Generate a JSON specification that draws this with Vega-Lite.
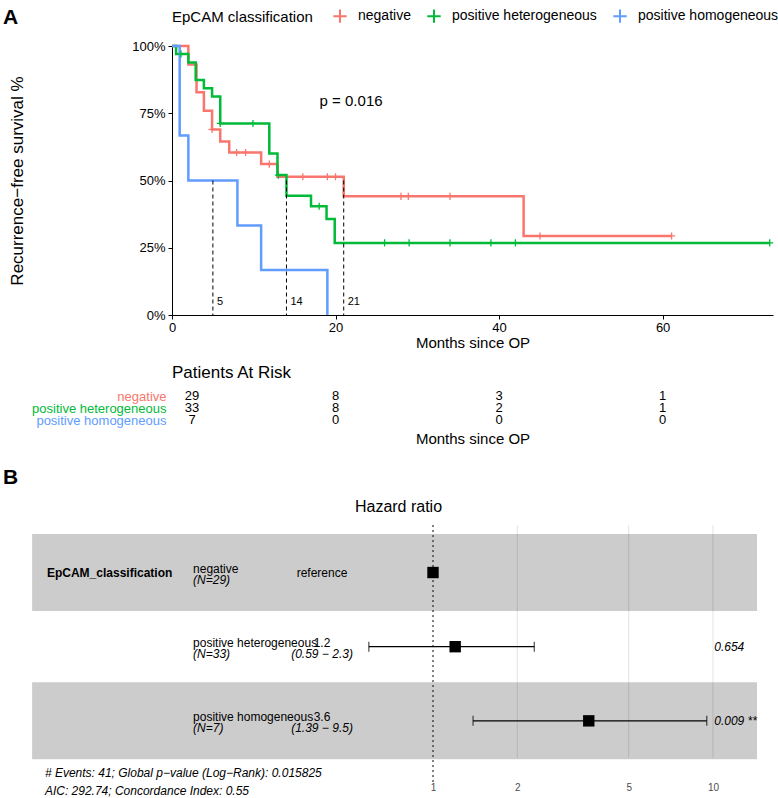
{
  "$schema": "https://vega.github.io/schema/vega-lite/v6.json",
  "background": "white",
  "padding": {"left": 3, "top": 7, "right": 0, "bottom": 0},
  "config": {
    "font": "Liberation Sans",
    "view": {"stroke": null},
    "axis": {"labelColor": "black", "titleColor": "black", "domainColor": "black", "tickColor": "black", "titleFontWeight": "normal", "grid": false, "labelFont": "Liberation Sans", "titleFont": "Liberation Sans"},
    "title": {"color": "black", "fontWeight": "normal", "font": "Liberation Sans"},
    "legend": {"labelFont": "Liberation Sans", "titleFont": "Liberation Sans", "labelColor": "black", "titleColor": "black"},
    "text": {"color": "black"}
  },
  "datasets": {
    "km": [
      {"group": "negative", "time": 0, "surv": 1},
      {"group": "negative", "time": 2.0, "surv": 0.931},
      {"group": "negative", "time": 3.0, "surv": 0.828},
      {"group": "negative", "time": 3.9, "surv": 0.759},
      {"group": "negative", "time": 4.9, "surv": 0.69},
      {"group": "negative", "time": 5.9, "surv": 0.645},
      {"group": "negative", "time": 7.0, "surv": 0.604},
      {"group": "negative", "time": 10.9, "surv": 0.561},
      {"group": "negative", "time": 12.9, "surv": 0.514},
      {"group": "negative", "time": 21, "surv": 0.441},
      {"group": "negative", "time": 43, "surv": 0.294},
      {"group": "negative", "time": 61.1, "surv": 0.294},
      {"group": "positive heterogeneous", "time": 0, "surv": 1},
      {"group": "positive heterogeneous", "time": 0.5, "surv": 0.97},
      {"group": "positive heterogeneous", "time": 2.0, "surv": 0.939},
      {"group": "positive heterogeneous", "time": 2.9, "surv": 0.874},
      {"group": "positive heterogeneous", "time": 3.9, "surv": 0.843},
      {"group": "positive heterogeneous", "time": 4.9, "surv": 0.812},
      {"group": "positive heterogeneous", "time": 5.9, "surv": 0.712},
      {"group": "positive heterogeneous", "time": 11.9, "surv": 0.6},
      {"group": "positive heterogeneous", "time": 12.9, "surv": 0.52},
      {"group": "positive heterogeneous", "time": 14, "surv": 0.443},
      {"group": "positive heterogeneous", "time": 17, "surv": 0.404},
      {"group": "positive heterogeneous", "time": 18.9, "surv": 0.357},
      {"group": "positive heterogeneous", "time": 19.9, "surv": 0.268},
      {"group": "positive heterogeneous", "time": 73.1, "surv": 0.268},
      {"group": "positive homogeneous", "time": 0, "surv": 1},
      {"group": "positive homogeneous", "time": 0.94, "surv": 0.667},
      {"group": "positive homogeneous", "time": 2.0, "surv": 0.5},
      {"group": "positive homogeneous", "time": 8.0, "surv": 0.333},
      {"group": "positive homogeneous", "time": 10.9, "surv": 0.167},
      {"group": "positive homogeneous", "time": 19, "surv": 0}
    ],
    "censor": [
      {"group": "negative", "time": 4.9, "surv": 0.69},
      {"group": "negative", "time": 7.9, "surv": 0.604},
      {"group": "negative", "time": 9.0, "surv": 0.604},
      {"group": "negative", "time": 11.9, "surv": 0.561},
      {"group": "negative", "time": 16.0, "surv": 0.514},
      {"group": "negative", "time": 19.0, "surv": 0.514},
      {"group": "negative", "time": 20.0, "surv": 0.514},
      {"group": "negative", "time": 28.0, "surv": 0.441},
      {"group": "negative", "time": 28.9, "surv": 0.441},
      {"group": "negative", "time": 34.0, "surv": 0.441},
      {"group": "negative", "time": 45.0, "surv": 0.294},
      {"group": "negative", "time": 61.1, "surv": 0.294},
      {"group": "positive heterogeneous", "time": 1.1, "surv": 0.97},
      {"group": "positive heterogeneous", "time": 5.9, "surv": 0.712},
      {"group": "positive heterogeneous", "time": 9.9, "surv": 0.712},
      {"group": "positive heterogeneous", "time": 13.0, "surv": 0.52},
      {"group": "positive heterogeneous", "time": 18.0, "surv": 0.404},
      {"group": "positive heterogeneous", "time": 26.0, "surv": 0.268},
      {"group": "positive heterogeneous", "time": 29.0, "surv": 0.268},
      {"group": "positive heterogeneous", "time": 34.0, "surv": 0.268},
      {"group": "positive heterogeneous", "time": 39.0, "surv": 0.268},
      {"group": "positive heterogeneous", "time": 42.0, "surv": 0.268},
      {"group": "positive heterogeneous", "time": 73.1, "surv": 0.268}
    ],
    "medians": [{"time": 5, "label": "5"}, {"time": 14, "label": "14"}, {"time": 21, "label": "21"}],
    "pval": [{"label": "p = 0.016"}],
    "risk": [
      {"group": "negative", "time": 0, "n": 29},
      {"group": "negative", "time": 20, "n": 8},
      {"group": "negative", "time": 40, "n": 3},
      {"group": "negative", "time": 60, "n": 1},
      {"group": "positive heterogeneous", "time": 0, "n": 33},
      {"group": "positive heterogeneous", "time": 20, "n": 8},
      {"group": "positive heterogeneous", "time": 40, "n": 2},
      {"group": "positive heterogeneous", "time": 60, "n": 1},
      {"group": "positive homogeneous", "time": 0, "n": 7},
      {"group": "positive homogeneous", "time": 20, "n": 0},
      {"group": "positive homogeneous", "time": 40, "n": 0},
      {"group": "positive homogeneous", "time": 60, "n": 0}
    ],
    "forest": [
      {"variable": "EpCAM_classification", "level": "negative", "n": "(N=29)", "pos": 3, "hr": 1, "low": null, "high": null, "estimate": "reference", "ci": "", "p": ""},
      {"variable": null, "level": "positive heterogeneous", "n": "(N=33)", "pos": 2, "hr": 1.2, "low": 0.59, "high": 2.3, "estimate": "1.2", "ci": "(0.59 − 2.3)", "p": "0.654"},
      {"variable": null, "level": "positive homogeneous", "n": "(N=7)", "pos": 1, "hr": 3.6, "low": 1.39, "high": 9.5, "estimate": "3.6", "ci": "(1.39 − 9.5)", "p": "0.009 **"}
    ],
    "gridlines": [{"hr": 2}, {"hr": 5}, {"hr": 10}],
    "notes": [
      {"line": 1, "note": "# Events: 41; Global p−value (Log−Rank): 0.015825"},
      {"line": 2, "note": "AIC: 292.74; Concordance Index: 0.55"}
    ]
  },
  "bounds": "flush",
  "spacing": 75,
  "vconcat": [
    {
      "width": 601,
      "height": 269,
      "title": {"text": "A", "anchor": "start", "frame": "group", "dx": -169, "dy": 9, "baseline": "bottom", "fontSize": 21, "fontWeight": "bold", "offset": 0},
      "layer": [
        {
          "data": {"name": "km"},
          "mark": {"type": "line", "interpolate": "step-after", "strokeWidth": 2.5},
          "encoding": {
            "x": {"field": "time", "type": "quantitative", "scale": {"domain": [0, 73.5], "nice": false, "zero": false},
              "axis": {"values": [0, 20, 40, 60], "title": "Months since OP", "labelFontSize": 13, "titleFontSize": 15, "tickSize": 4, "labelPadding": 2, "titlePadding": 1, "labelFlush": false}},
            "y": {"field": "surv", "type": "quantitative", "scale": {"domain": [0, 1], "nice": false},
              "axis": {"values": [0, 0.25, 0.5, 0.75, 1], "format": ".0%", "title": "Recurrence−free survival %", "labelFontSize": 13, "titleFontSize": 17, "titlePadding": 105, "tickSize": 4, "labelPadding": 3, "labelFlush": false}},
            "color": {"field": "group", "type": "nominal",
              "scale": {"domain": ["negative", "positive heterogeneous", "positive homogeneous"], "range": ["#F8766D", "#00BA38", "#619CFF"]},
              "legend": {"orient": "none", "legendX": 0, "legendY": -38, "direction": "horizontal", "title": "EpCAM classification", "titleOrient": "left", "titleFontSize": 15, "titleFontWeight": "normal", "labelFontSize": 14, "symbolType": "M-1,0H1M0,-1V1", "symbolSize": 180, "symbolStrokeWidth": 2, "symbolFillColor": "transparent", "columnPadding": 12, "labelOffset": 10, "titlePadding": 19}}
          }
        },
        {
          "data": {"name": "censor"},
          "mark": {"type": "point", "shape": "M-1,0H1M0,-1V1", "size": 50, "filled": false, "strokeWidth": 1.3, "opacity": 1},
          "encoding": {
            "x": {"field": "time", "type": "quantitative"},
            "y": {"field": "surv", "type": "quantitative"},
            "color": {"field": "group", "type": "nominal"}
          }
        },
        {
          "data": {"name": "medians"},
          "mark": {"type": "rule", "strokeDash": [4, 3], "color": "black", "strokeWidth": 1},
          "encoding": {"x": {"field": "time", "type": "quantitative"}, "y": {"datum": 0.5, "type": "quantitative"}, "y2": {"datum": 0}}
        },
        {
          "data": {"name": "medians"},
          "mark": {"type": "text", "fontSize": 11, "align": "left", "dx": 4, "baseline": "middle"},
          "encoding": {"x": {"field": "time", "type": "quantitative"}, "y": {"datum": 0.048, "type": "quantitative"}, "text": {"field": "label"}}
        },
        {
          "data": {"name": "pval"},
          "mark": {"type": "text", "fontSize": 15, "align": "center", "baseline": "middle"},
          "encoding": {"x": {"datum": 21.9, "type": "quantitative"}, "y": {"datum": 0.797, "type": "quantitative"}, "text": {"field": "label"}}
        }
      ]
    },
    {
      "width": 601,
      "height": 36,
      "data": {"name": "risk"},
      "title": {"text": "Patients At Risk", "anchor": "start", "frame": "group", "fontSize": 17, "fontWeight": "normal", "baseline": "bottom", "offset": 11, "dy": 20},
      "encoding": {
        "x": {"field": "time", "type": "quantitative", "scale": {"domain": [0, 73.5], "nice": false, "zero": false},
          "axis": {"labels": false, "ticks": false, "domain": false, "title": "Months since OP", "titleFontSize": 15, "titlePadding": 5}},
        "y": {"field": "group", "type": "nominal", "scale": {"domain": ["negative", "positive heterogeneous", "positive homogeneous"]},
          "axis": {"title": null, "ticks": false, "domain": false, "labelFontSize": 13, "labelPadding": 6,
            "labelColor": {"condition": [{"test": "datum.value === 'negative'", "value": "#F8766D"}, {"test": "datum.value === 'positive heterogeneous'", "value": "#00BA38"}], "value": "#619CFF"}}},
        "text": {"field": "n", "type": "quantitative"}
      },
      "layer": [
        {"transform": [{"filter": "datum.time > 0"}], "mark": {"type": "text", "fontSize": 13}},
        {"transform": [{"filter": "datum.time == 0"}], "mark": {"type": "text", "fontSize": 13, "dx": 20}}
      ]
    },
    {
      "width": 585,
      "height": 279,
      "title": {"text": "B", "anchor": "start", "frame": "group", "dx": -169, "dy": 25, "fontSize": 21, "fontWeight": "bold", "baseline": "bottom", "offset": 14},
      "layer": [
        {
          "data": {"name": "gridlines"},
          "mark": {"type": "rule", "color": "#e3e3e3", "strokeWidth": 1},
          "encoding": {
            "x": {"field": "hr", "type": "quantitative", "scale": {"type": "log", "domain": [0.1169, 14.36], "nice": false},
              "axis": {"values": [1, 2, 5, 10], "format": "~g", "title": null, "labelFontSize": 10, "labelColor": "#4d4d4d", "ticks": false, "domain": false, "grid": false, "labelPadding": 2, "labelFlush": false}},
            "y": {"datum": 3.64, "type": "quantitative", "scale": {"domain": [0.27, 3.897], "nice": false, "zero": false},
              "axis": {"title": "Hazard ratio", "titleAngle": 0, "titleX": 226, "titleY": 5, "titleAlign": "center", "titleBaseline": "middle", "titleFontSize": 16, "labels": false, "ticks": false, "domain": false, "grid": false}},
            "y2": {"datum": 0.5}
          }
        },
        {
          "data": {"name": "forest"},
          "transform": [{"filter": "datum.pos % 2 == 1"}],
          "mark": {"type": "bar", "height": 77, "color": "black", "opacity": 0.2},
          "encoding": {"x": {"datum": 0.037, "type": "quantitative"}, "x2": {"datum": 14.36}, "y": {"field": "pos", "type": "quantitative"}}
        },
        {
          "data": {"name": "gridlines"},
          "transform": [{"filter": "datum.hr == 2"}],
          "mark": {"type": "rule", "strokeDash": [2, 3], "color": "black", "strokeWidth": 1},
          "encoding": {"x": {"datum": 1, "type": "quantitative"}, "y": {"datum": 3.64, "type": "quantitative"}, "y2": {"datum": 0.16}}
        },
        {
          "data": {"name": "forest"},
          "transform": [{"filter": "datum.low != null"}],
          "mark": {"type": "rule", "color": "black", "strokeWidth": 1.2},
          "encoding": {"x": {"field": "low", "type": "quantitative"}, "x2": {"field": "high"}, "y": {"field": "pos", "type": "quantitative"}}
        },
        {
          "data": {"name": "forest"},
          "transform": [{"filter": "datum.low != null"}],
          "mark": {"type": "tick", "orient": "vertical", "size": 10, "thickness": 1.2, "color": "black"},
          "encoding": {"x": {"field": "low", "type": "quantitative"}, "y": {"field": "pos", "type": "quantitative"}}
        },
        {
          "data": {"name": "forest"},
          "transform": [{"filter": "datum.low != null"}],
          "mark": {"type": "tick", "orient": "vertical", "size": 10, "thickness": 1.2, "color": "black"},
          "encoding": {"x": {"field": "high", "type": "quantitative"}, "y": {"field": "pos", "type": "quantitative"}}
        },
        {
          "data": {"name": "forest"},
          "mark": {"type": "point", "shape": "square", "filled": true, "size": 130, "color": "black", "opacity": 1},
          "encoding": {"x": {"field": "hr", "type": "quantitative"}, "y": {"field": "pos", "type": "quantitative"}}
        },
        {
          "data": {"name": "forest"},
          "transform": [{"filter": "datum.variable != null"}],
          "mark": {"type": "text", "fontSize": 12, "fontWeight": "bold", "align": "left", "baseline": "middle"},
          "encoding": {"x": {"datum": 0.0418, "type": "quantitative"}, "y": {"field": "pos", "type": "quantitative"}, "text": {"field": "variable"}}
        },
        {
          "data": {"name": "forest"},
          "mark": {"type": "text", "fontSize": 12, "align": "left", "baseline": "alphabetic", "dy": 0},
          "encoding": {"x": {"datum": 0.139, "type": "quantitative"}, "y": {"field": "pos", "type": "quantitative"}, "text": {"field": "level"}}
        },
        {
          "data": {"name": "forest"},
          "mark": {"type": "text", "fontSize": 12, "fontStyle": "italic", "align": "left", "baseline": "top", "dy": 2},
          "encoding": {"x": {"datum": 0.139, "type": "quantitative"}, "y": {"field": "pos", "type": "quantitative"}, "text": {"field": "n"}}
        },
        {
          "data": {"name": "forest"},
          "transform": [{"filter": "datum.low == null"}],
          "mark": {"type": "text", "fontSize": 12, "align": "center", "baseline": "middle"},
          "encoding": {"x": {"datum": 0.4015, "type": "quantitative"}, "y": {"field": "pos", "type": "quantitative"}, "text": {"field": "estimate"}}
        },
        {
          "data": {"name": "forest"},
          "transform": [{"filter": "datum.low != null"}],
          "mark": {"type": "text", "fontSize": 12, "align": "center", "baseline": "alphabetic", "dy": 0},
          "encoding": {"x": {"datum": 0.4015, "type": "quantitative"}, "y": {"field": "pos", "type": "quantitative"}, "text": {"field": "estimate"}}
        },
        {
          "data": {"name": "forest"},
          "transform": [{"filter": "datum.low != null"}],
          "mark": {"type": "text", "fontSize": 12, "fontStyle": "italic", "align": "center", "baseline": "top", "dy": 2},
          "encoding": {"x": {"datum": 0.4015, "type": "quantitative"}, "y": {"field": "pos", "type": "quantitative"}, "text": {"field": "ci"}}
        },
        {
          "data": {"name": "forest"},
          "transform": [{"filter": "datum.low != null"}],
          "mark": {"type": "text", "fontSize": 12, "fontStyle": "italic", "align": "left", "baseline": "middle"},
          "encoding": {"x": {"datum": 10.1, "type": "quantitative"}, "y": {"field": "pos", "type": "quantitative"}, "text": {"field": "p"}}
        },
        {
          "data": {"name": "notes"},
          "transform": [{"filter": "datum.line == 1"}],
          "mark": {"type": "text", "fontSize": 12, "fontStyle": "italic", "align": "left", "baseline": "middle"},
          "encoding": {"x": {"datum": 0.0411, "type": "quantitative"}, "y": {"datum": 0.3, "type": "quantitative"}, "text": {"field": "note"}}
        },
        {
          "data": {"name": "notes"},
          "transform": [{"filter": "datum.line == 2"}],
          "mark": {"type": "text", "fontSize": 12, "fontStyle": "italic", "align": "left", "baseline": "middle"},
          "encoding": {"x": {"datum": 0.0411, "type": "quantitative"}, "y": {"datum": 0.055, "type": "quantitative"}, "text": {"field": "note"}}
        }
      ]
    }
  ]
}
